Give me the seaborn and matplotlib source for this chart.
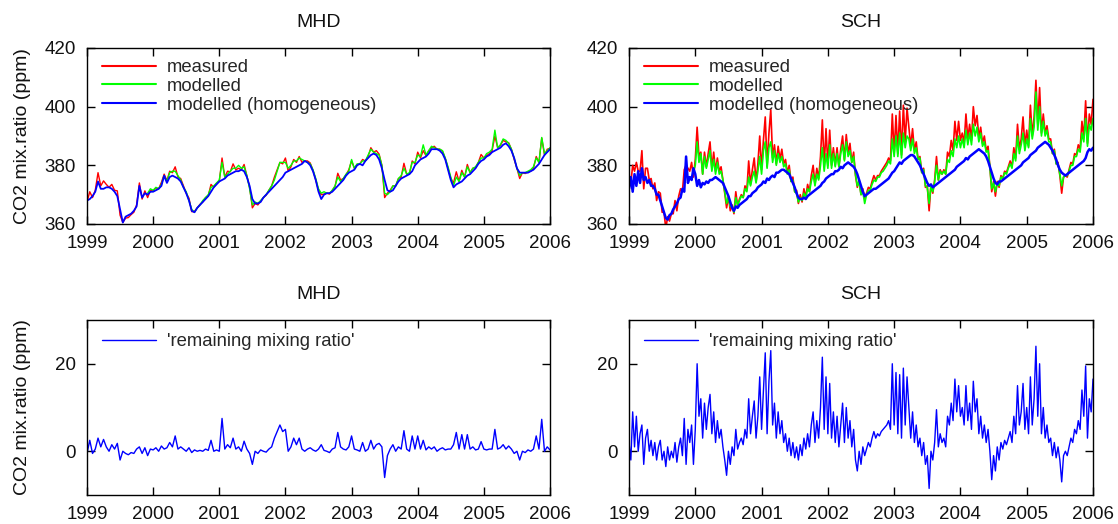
import numpy as np
import matplotlib
matplotlib.use("Agg")
import matplotlib.pyplot as plt
import seaborn as sns

nan = float("nan")

# ---------------- data ----------------
stations = ["MHD", "SCH"]
years = [1999, 2000, 2001, 2002, 2003, 2004, 2005, 2006]
top_ticks = [360, 380, 400, 420]
bottom_ticks = [0, 20]
series_labels = ["measured", "modelled", "modelled (homogeneous)"]
resid_label = "'remaining mixing ratio'"
ylabel_text = "CO2 mix.ratio (ppm)"

# MHD: 24 samples per year (1999.0 ... 2006.0)
mhd_homog = [
    368, 368.5, 369.5, 371, 374.5, 372, 372, 372.5, 372.5, 372, 371, 369.5, 365, 360.5, 362.5, 363, 363.5, 364.5, 366, 373, 369, 370.5, 370, 371,
    371, 371.5, 372, 373, 376.5, 374, 376, 376.5, 376, 375.5, 374.5, 372.5, 370.5, 368, 364.5, 364, 365.5, 366.5, 367.5, 368.5, 369.5, 371, 372.5, 373.5,
    374.5, 375, 375.5, 376.5, 377, 377.5, 378, 378, 378.5, 378, 376, 373, 368.5, 367, 367, 367.5, 369, 370, 371, 372, 373, 374, 375, 376,
    377.5, 378, 378.5, 379, 379.5, 380, 380.5, 381.5, 381, 380, 378, 375, 371, 368.5, 370, 370.5, 370.5, 371, 372, 373, 374, 375, 376.5, 377.5,
    378, 378.5, 380, 380.5, 380, 381.5, 382.5, 383.5, 384, 383.5, 382, 379, 375, 371.5, 371, 371.5, 373, 374.5, 375.5, 376, 376.5, 377, 378, 380,
    381, 382, 382.5, 383, 384, 385.5, 385.5, 385.5, 385, 384, 382, 378.5, 375, 372.5, 373.5, 374, 374.5, 375.5, 376.5, 377, 378, 379, 380.5, 381.5,
    382, 383, 383.5, 384.5, 385, 385.5, 386, 387, 387.5, 386.5, 385, 382.5, 379, 377.5, 377.5, 377.5, 377.5, 378, 378.5, 379.5, 380.5, 382, 383.5, 384.5,
    385.5]
mhd_measured = [
    367.5, 371, 369, 371.5, 377.5, 373, 374.7, 373.5, 372.5, 373.5, 371.5, 371.3, 363, 360.5, 362, 362.2, 363.2, 364, 366.5, 374, 368.5, 371.3, 369, 371.5,
    371.3, 372.3, 372, 374.2, 377, 374.8, 378, 377.5, 379.5, 376, 375.5, 373, 370.5, 368.8, 364.2, 364.3, 365.5, 366.7, 367.5, 369, 369.7, 373.5, 372.5, 373.8,
    374.5, 382.5, 376, 378, 377.8, 380.5, 378.5, 379, 378.5, 380.3, 376.5, 372.5, 365.5, 367, 366.5, 367.8, 369, 369.8, 371.5, 373, 376, 378.5, 381, 380.5,
    382.5, 378, 379.5, 382, 381, 383, 381, 381.5, 381.5, 380.8, 378.3, 375, 371.5, 370, 370.2, 370.5, 370.2, 371.5, 372.8, 377.3, 375, 375.5, 376.8, 378.5,
    381.5, 379, 380.3, 380.5, 382, 381.5, 383, 386, 384.5, 385, 383.8, 380, 369, 370.5, 371.5, 373, 373, 375.5, 376, 380.7, 377, 377, 381.5, 380.5,
    384.5, 382.5, 385, 383.3, 385, 386, 386.5, 385.5, 385.5, 384.8, 382.3, 379, 375.5, 374, 377.8, 374.5, 378.3, 376, 380.3, 377.5, 379, 379.3, 381, 383.7,
    382.5, 383.3, 384, 385, 390, 386, 386.8, 388.5, 388, 387.7, 385.5, 382, 379, 375.5, 377.5, 377.2, 377.8, 378, 379, 383, 381, 389.3, 383.5, 385.5,
    385.8]
mhd_modelled = [
    nan, nan, nan, nan, nan, nan, nan, nan, nan, nan, nan, nan, nan, nan, nan, nan, nan, nan, nan, nan, nan, nan, 370.5, 372,
    371.5, 372.5, 372, 373.5, 376.5, 374.5, 377.5, 378, 378, 376.5, 375, 372.5, 371, 368, 365, 364, 365.5, 366.5, 368, 369, 370, 372.5, 373, 374,
    375, 381, 376, 377, 378, 379, 379, 380, 379, 379.5, 376.5, 372, 366.5, 367.5, 367, 368, 369, 370, 371.5, 373, 375, 378, 381, 381,
    381, 379, 380, 381.5, 381.5, 382.5, 382, 381.5, 381, 380.5, 378.5, 375.5, 372, 370.5, 371, 370.5, 370.5, 371.5, 373, 376, 374.5, 375.5, 377, 378,
    382, 379, 380.5, 380.5, 381.5, 381.5, 383.5, 385.5, 384.5, 384, 383.5, 380, 370.5, 370, 371, 373, 373, 375.5, 376.5, 379, 377, 377.5, 381, 381,
    383.5, 383, 387, 383.5, 385, 386.5, 386, 385.5, 385.5, 385, 382.5, 379.5, 376, 373, 376, 374.5, 377.5, 376, 379.5, 377.5, 379, 379.5, 381, 382.5,
    382.5, 384, 384.5, 385.5, 392, 386, 387, 389, 388.5, 387.5, 385.5, 382.5, 379, 376.5, 377.5, 377.5, 378, 378.5, 379.5, 382.5, 381, 389.5, 384, 385,
    386]
mhd_remaining = [
    -0.5, 2.5, -0.5, 0.5, 3, 1, 2.7, 1, 0, 1.5, 0.5, 1.8, -2, 0, -0.5, -0.8, -0.3, -0.5, 0.5, 1, -0.5, 0.8, -1, 0.5,
    0.3, 0.8, 0, 1.2, 0.5, 0.8, 2, 1, 3.5, 0.5, 1, 0.5, 0, 0.8, -0.3, 0.3, 0, 0.2, 0, 0.5, 0.2, 2.5, 0, 0.3,
    0, 7.5, 0.5, 1.5, 0.8, 3, 0.5, 1, 0, 2.3, 0.5, -0.5, -3, 0, -0.5, 0.3, 0, -0.2, 0.5, 1, 3, 4.5, 6, 4.5,
    5, 0, 1, 3, 1.5, 3, 0.5, 0, 0.5, 0.8, 0.3, 0, 0.5, 1.5, 0.2, 0, -0.3, 0.5, 0.8, 4.3, 1, 0.5, 0.3, 1,
    3.5, 0.5, 0.3, 0, 2, 0, 0.5, 2.5, 0.5, 1.5, 1.8, 1, -6, -1, 0.5, 1.5, 0, 1, 0.5, 4.7, 0.5, 0, 3.5, 0.5,
    3.5, 0.5, 2.5, 0.3, 1, 0.5, 1, 0, 0.5, 0.8, 0.3, 0.5, 0.5, 1.5, 4.3, 0.5, 3.8, 0.5, 3.8, 0.5, 1, 0.3, 0.5, 2.2,
    0.5, 0.3, 0.5, 0.5, 5, 0.5, 0.8, 1.5, 0.5, 1.2, 0.5, -0.5, 0, -2, 0, -0.3, 0.3, 0, 0.5, 3.5, 0.5, 7.3, 0, 1,
    0.3]

# SCH: 36 samples per year (1999.0 ... 2006.0)
sch_homog = [
    372, 376, 371, 377, 373, 378, 374, 379, 375, 376, 374, 375, 373, 373, 372, 370, 370, 368, 366, 364, 362, 361.5, 363, 363.5, 365, 366, 367, 368.5, 369, 372, 371, 383, 374, 376, 375, 379,
    377, 373, 375, 372.5, 374, 373.5, 374.5, 374, 375, 375, 375.5, 376, 375.5, 375, 374.5, 374, 372.5, 371, 369.5, 367.5, 365.5, 364.5, 366, 365.5, 366.5, 367, 367.5, 368, 368.5, 369.5, 369.5, 370.5, 371, 371.5, 372.5, 373,
    373.5, 374.5, 374, 375.5, 375, 376, 376.5, 376, 377.5, 377.5, 378, 378.5, 378.5, 378, 377.5, 377, 375.5, 374, 372.5, 370.5, 369, 368.5, 368.5, 369, 368.5, 369.5, 370, 370.5, 371, 371.5, 372, 372.5, 373, 374, 374.5, 375.5,
    376, 376.5, 377, 377, 378, 378, 378.5, 379.5, 379, 380, 380.5, 381, 380.5, 380, 379.5, 378.5, 377, 375, 373, 371, 369.5, 370, 370.5, 371, 371.5, 372, 372, 372.5, 373, 373.5, 374, 374.5, 375, 375.5, 376.5, 377.5,
    378, 379, 380, 381, 380.5, 381.5, 382, 382.5, 383, 383.5, 383.5, 383, 382, 381, 380, 378.5, 377, 375.5, 374, 373, 373.5, 372.5, 373, 373.5, 374, 374.5, 375, 375.5, 376, 376.5, 377, 377.5, 378, 378.5, 379.5, 380,
    380.5, 381, 381.5, 382.5, 382, 383, 383.5, 384, 384.5, 385, 385.5, 385, 384.5, 384, 383, 381.5, 379.5, 377.5, 375.5, 374, 373.5, 374.5, 374.5, 375, 375.5, 376, 376.5, 377, 377.5, 378, 378.5, 379, 379.5, 380, 381, 381.5,
    382, 382.5, 383.5, 384, 384.5, 385, 386, 386.5, 387, 387.5, 388, 387.5, 387, 386, 385, 383.5, 382, 380, 378.5, 377.5, 377, 376.5, 377, 377.5, 378, 378.5, 379, 379.5, 380, 380.5, 381, 381.5, 382.5, 384.5, 385.5, 385,
    386]
sch_measured = [
    374, 374, 380, 378, 381, 378, 378, 385, 372, 379, 379, 375, 375.5, 372, 374, 368, 371, 370.5, 364, 364, 358.5, 362.5, 361, 363.5, 363.5, 368, 364.5, 369.5, 372, 371, 378.5, 380, 379, 378, 381, 376,
    382, 393, 383, 384.5, 377, 384.5, 379.5, 384, 388, 379, 384.5, 378, 382.5, 378, 379.5, 375, 370.5, 365.5, 369.5, 364.5, 366.5, 363.5, 371, 366, 368.5, 370, 369, 373, 371.5, 381.5, 373.5, 378.5, 382.5, 374.5, 380.5, 390,
    378.5, 388.5, 396.5, 379.5, 391, 399, 382.5, 387, 380.5, 386.5, 382, 385.5, 380.5, 382, 377.5, 380, 374.5, 376, 371, 371.5, 367, 370, 367.5, 372, 369, 373.5, 371, 376.5, 380, 373.5, 379, 375.5, 383, 395.5, 379.5, 392.5,
    380, 392, 380, 386, 380, 386, 379.5, 385.5, 390, 382, 390.5, 384, 387.5, 381, 384.5, 376.5, 372.5, 375, 370, 372, 368.5, 370.5, 372.5, 372, 374.5, 376.5, 375, 376.5, 376.5, 378, 379, 380, 381, 382.5, 381.5, 397.5,
    384, 397, 384, 398.5, 383.5, 400.5, 388, 399.5, 393, 386.5, 392.5, 385, 388, 382, 383, 377.5, 379, 372.5, 373, 364.5, 373.5, 370.5, 375, 383, 375, 378.5, 377, 378.5, 377, 384.5, 383, 388.5, 385, 395, 388.5, 395,
    388.5, 391, 387.5, 397.5, 389, 394, 388.5, 400, 393.5, 397, 389.5, 393, 387.5, 390, 385, 386.5, 379.5, 371, 374.5, 369.5, 374.5, 372.5, 376.5, 375.5, 378, 377.5, 379.5, 381.5, 379.5, 386, 382.5, 394, 385.5, 389, 396.5, 386.5,
    392, 386.5, 400.5, 390, 396.5, 409, 394, 406.5, 391, 397.5, 391, 393.5, 389, 389, 384, 385.5, 380.5, 381, 376.5, 370.5, 376, 376.5, 376, 378.5, 381, 380.5, 384, 383.5, 387, 385.5, 395, 389.5, 402, 387.5, 397.5, 394,
    402.5]
sch_modelled = [
    nan, nan, nan, nan, nan, nan, nan, nan, nan, nan, nan, nan, nan, nan, nan, nan, nan, nan, nan, nan, nan, nan, nan, nan, nan, nan, nan, nan, nan, nan, nan, nan, nan, nan, nan, 378,
    380, 388, 381, 384, 377, 383, 379, 382, 385, 378, 382, 377, 381, 377, 378, 375, 371, 367, 369, 366, 366, 364, 369, 366.5, 368, 369.5, 369, 372, 371, 376, 373, 376, 378, 374, 378, 383,
    377, 385, 388, 379, 386, 388, 381, 385, 380, 384, 381, 383, 379.5, 380.5, 377, 378.5, 374.5, 375, 371, 370.5, 367.5, 369, 368, 370.5, 369, 372, 371, 374.5, 377, 373, 377, 375, 380, 386, 378, 384,
    379, 387, 379, 384, 379.5, 384, 379.5, 384, 387, 381.5, 388, 383, 385, 381, 383, 377, 373, 374.5, 370, 371, 367, 370, 371.5, 371.5, 373.5, 375, 374.5, 376, 376, 377.5, 378, 379, 380, 381.5, 380.5, 389,
    383, 390, 383, 391, 382.5, 391, 386, 390, 389, 385, 389, 384, 386, 382, 382.5, 377.5, 378.5, 373, 372.5, 367, 373, 371, 374.5, 380, 375, 378, 377, 378, 377, 382, 381, 385, 383, 389, 386, 390,
    386, 389, 386, 392, 387, 391, 387, 394, 390, 393, 388, 391, 386.5, 388, 384.5, 385, 379.5, 372, 374, 371, 374, 373, 376, 375.5, 377.5, 377, 379, 380.5, 379, 384, 381.5, 390, 384, 387, 391, 385,
    389, 386, 396, 389, 393, 405, 392, 400, 390, 395, 390, 392, 388, 388, 384, 385, 380.5, 380.5, 377, 373, 376, 376.5, 376.5, 378, 380, 380, 383, 383, 385.5, 384.5, 391, 388, 396, 386.5, 394, 392,
    396]
sch_remaining = [
    2, -2, 9, 1, 8, 0, 4, 6, -3, 3, 5, 0, 2.5, -1, 2, -2, 1, 2.5, -2, 0, -3.5, 1, -2, 0, -1.5, 2, -2.5, 1, 3, -1, 7.5, -3, 5, 2, 6, -3,
    5, 20, 8, 12, 3, 11, 5, 10, 13, 4, 9, 2, 7, 3, 5, 1, -2, -5.5, 0, -3, 1, -1, 5, 0.5, 2, 3, 1.5, 5, 3, 12, 4, 8, 11.5, 3, 8, 17,
    5, 14, 22.5, 4, 16, 23, 6, 11, 3, 9, 4, 7, 2, 4, 0, 3, -1, 2, -1.5, 1, -2, 1.5, -1, 3, 0.5, 4, 1, 6, 9, 2, 7, 3, 10, 21.5, 5, 17,
    4, 15.5, 3, 9, 2, 8, 1, 6, 11, 2, 10, 3, 7, 1, 5, -2, -4.5, 0, -3, 1, -1, 0.5, 2, 1, 3, 4.5, 3, 4, 3.5, 4.5, 5, 5.5, 6, 7, 5, 20,
    6, 18, 4, 17.5, 3, 19, 6, 17, 10, 3, 9, 2, 6, 1, 3, -1, 2, -3, -1, -8.5, 0, -2, 2, 9.5, 1, 4, 2, 3, 1, 8, 6, 11, 7, 16.5, 9, 15,
    8, 10, 6, 15, 7, 11, 5, 16, 9, 12, 4, 8, 3, 6, 2, 5, 0, -6.5, -1, -4.5, 1, -2, 2, 0.5, 2.5, 1.5, 3, 4.5, 2, 8, 4, 15, 6, 9, 15.5, 5,
    10, 4, 17, 6, 12, 24, 8, 20, 4, 10, 3, 6, 2, 3, -1, 2, -1.5, 1, -2, -7, -1, 0, -1, 1, 3, 2, 5, 4, 7, 5, 14, 8, 19.5, 3, 12, 9,
    16.5]

samples_per_year = {"MHD": 24, "SCH": 36}
top_data = {
    "MHD": [mhd_measured, mhd_modelled, mhd_homog],
    "SCH": [sch_measured, sch_modelled, sch_homog],
}
bottom_data = {"MHD": mhd_remaining, "SCH": sch_remaining}

# ---------------- style ----------------
sns.set_style("ticks")
plt.rcParams["font.family"] = ["Liberation Sans", "DejaVu Sans"]
plt.rcParams["axes.edgecolor"] = "black"
plt.rcParams["axes.linewidth"] = 1.0

colors = ["#ff0000", "#00ff00", "#0000ff"]
FS = 14
LEG_FS = 13.3
TICK_FS = 13.5

W, H = 1118, 524
fig = plt.figure(figsize=(W / 100, H / 100), dpi=100)


def add_ax(x0, y0, x1, y1):
    return fig.add_axes([x0 / W, 1 - y1 / H, (x1 - x0) / W, (y1 - y0) / H])


boxes_top = {"MHD": (87, 48, 550, 224), "SCH": (629, 48, 1093, 224)}
boxes_bot = {"MHD": (87, 320, 550, 495), "SCH": (629, 320, 1093, 495)}


def times(vals, per_year):
    return years[0] + np.arange(len(vals)) / per_year


def style_axis(ax, yticks, ylim):
    ax.set_xlim(years[0], years[-1])
    ax.set_ylim(*ylim)
    ax.set_xticks(years)
    ax.set_xticklabels([str(y) for y in years])
    ax.set_yticks(yticks)
    ax.set_yticklabels([str(v) for v in yticks])
    ax.tick_params(axis="both", direction="in", top=True, right=True,
                   length=6, width=1, color="black", labelsize=TICK_FS,
                   labelcolor="#111111")
    ax.tick_params(axis="x", pad=8)
    ax.tick_params(axis="y", pad=8)
    for s in ax.spines.values():
        s.set_visible(True)
        s.set_linewidth(1.0)
        s.set_color("black")
    ax.set_xlabel("")


for i, st in enumerate(stations):
    per = samples_per_year[st]
    # top panel
    ax = add_ax(*boxes_top[st])
    if st == "MHD":
        lws = [1.0, 1.0, 1.3]
    else:
        lws = [1.2, 1.2, 1.8]
    for vals, lab, col, lw in zip(top_data[st], series_labels, colors, lws):
        sns.lineplot(x=times(vals, per), y=np.asarray(vals, dtype=float), ax=ax,
                     color=col, lw=lw, label=lab, estimator=None)
    style_axis(ax, top_ticks, (360, 420))
    ax.set_ylabel("")
    ax.set_title(st, fontsize=FS, pad=15, color="#111111")
    leg = ax.legend(loc="upper left", bbox_to_anchor=(15 / 463, 1 - 11 / 176),
                    frameon=False, fontsize=LEG_FS, handlelength=2.9,
                    handletextpad=0.6, labelspacing=0.1, borderpad=0,
                    borderaxespad=0)
    for h in leg.get_lines():
        h.set_linewidth(1.5)
    if i == 0:
        ax.set_ylabel(ylabel_text, fontsize=FS, color="#111111")
        ax.yaxis.set_label_coords(-0.12, 0.5)

    # bottom panel
    axb = add_ax(*boxes_bot[st])
    vals = bottom_data[st]
    sns.lineplot(x=times(vals, per), y=np.asarray(vals, dtype=float), ax=axb,
                 color="#0000ff", lw=1.0, label=resid_label, estimator=None)
    style_axis(axb, bottom_ticks, (-10, 30))
    axb.set_ylabel("")
    axb.set_title(st, fontsize=FS, pad=15, color="#111111")
    axb.legend(loc="upper left", bbox_to_anchor=(15 / 463, 1 - 13 / 175),
               frameon=False, fontsize=LEG_FS, handlelength=2.9,
               handletextpad=0.6, borderpad=0, borderaxespad=0)
    if i == 0:
        axb.set_ylabel(ylabel_text, fontsize=FS, color="#111111")
        axb.yaxis.set_label_coords(-0.12, 0.5)

fig.savefig("out.png", dpi=100, facecolor="white")
